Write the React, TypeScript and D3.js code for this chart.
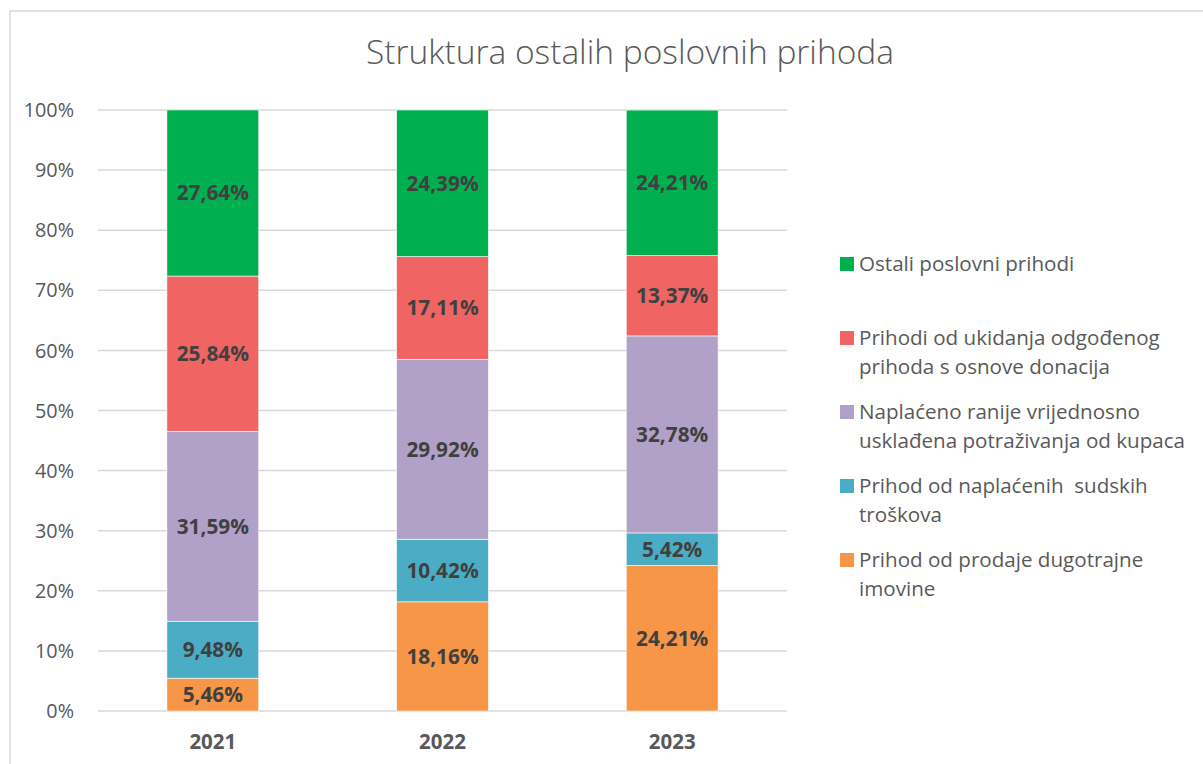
import React from "react";
import * as d3 from "d3";

const years = ["2021", "2022", "2023"];
const prodaja = [5.46, 18.16, 24.21];
const sudski = [9.48, 10.42, 5.42];
const naplaceno = [31.59, 29.92, 32.78];
const donacije = [25.84, 17.11, 13.37];
const ostali = [27.64, 24.39, 24.21];
const seriesColors = ["#F79646", "#4BACC6", "#B1A0C7", "#F06464", "#00B050"];
const yTicks = [0, 10, 20, 30, 40, 50, 60, 70, 80, 90, 100];
const legendOrder = [4, 3, 2, 1, 0];
const legendLines = [
  ["Ostali poslovni prihodi"],
  ["Prihodi od ukidanja odgođenog", "prihoda s osnove donacija"],
  ["Naplaćeno ranije vrijednosno", "usklađena potraživanja od kupaca"],
  ["Prihod od naplaćenih  sudskih", "troškova"],
  ["Prihod od prodaje dugotrajne", "imovine"],
];
const legendY = [264, 338, 412, 486, 560];

const FONT = "'Open Sans', 'Liberation Sans', sans-serif";

export default function App() {
  const W = 1203;
  const H = 764;
  const x0 = 98, x1 = 787;
  const yTop = 110, yBot = 711;
  const x = d3.scalePoint<string>().domain(years).range([x0, x1]).padding(0.5);
  const y = d3.scaleLinear().domain([0, 100]).range([yBot, yTop]);
  const barW = x.step() * 0.4;

  const rows = years.map((yr, i) => {
    const r: any = { year: yr };
    [prodaja, sudski, naplaceno, donacije, ostali].forEach((arr, k) => (r["s" + k] = arr[i]));
    return r;
  });
  const stack = d3.stack<any>().keys([0, 1, 2, 3, 4].map((k) => "s" + k));
  const stacked = stack(rows);

  return (
    <svg width={W} height={H} style={{ position: "absolute", left: 0, top: 0, background: "#fff" }}>
      <rect x={10} y={11} width={1200} height={760} fill="#fff" stroke="#d9d9d9" strokeWidth={1.5} />
      <text x={630} y={64} textAnchor="middle" fontFamily={FONT} fontWeight={300} fontSize={33.5} fill="#595959">
        Struktura ostalih poslovnih prihoda
      </text>
      {yTicks.map((t) => (
        <g key={t}>
          <line x1={x0} x2={x1} y1={y(t)} y2={y(t)} stroke="#d9d9d9" strokeWidth={1.5} />
          <text x={74} y={y(t)} dy="0.36em" textAnchor="end" fontFamily={FONT} fontSize={19.8} fill="#595959">
            {t}%
          </text>
        </g>
      ))}
      {stacked.map((layer, k) => (
        <g key={k}>
          {layer.map((d, i) => {
            const cx = x(years[i])!;
            const yt = y(d[1]);
            const yb = y(d[0]);
            return (
              <g key={i}>
                <rect x={cx - barW / 2} y={yt} width={barW} height={yb - yt} fill={seriesColors[k]} stroke="#fff" strokeWidth={0.6} />
                <text x={cx} y={(yt + yb) / 2} dy="0.36em" textAnchor="middle" fontFamily={FONT} fontWeight={700} fontSize={20.8} fill="#404040">
                  {d3.format(".2f")(d[1] - d[0]).replace(".", ",")}%
                </text>
              </g>
            );
          })}
        </g>
      ))}
      {years.map((yr) => (
        <text key={yr} x={x(yr)!} y={742} dy="0.36em" textAnchor="middle" fontFamily={FONT} fontWeight={700} fontSize={20.5} fill="#595959">
          {yr}
        </text>
      ))}
      {legendOrder.map((k, j) => (
        <g key={k}>
          <rect x={840} y={legendY[j] - 7} width={14} height={14} fill={seriesColors[k]} />
          {legendLines[j].map((ln, li) => (
            <text key={li} x={859} y={legendY[j] + li * 28.5} dy="0.36em" fontFamily={FONT} fontSize={20.6} fill="#595959" style={{ whiteSpace: "pre" }}>
              {ln}
            </text>
          ))}
        </g>
      ))}
    </svg>
  );
}
